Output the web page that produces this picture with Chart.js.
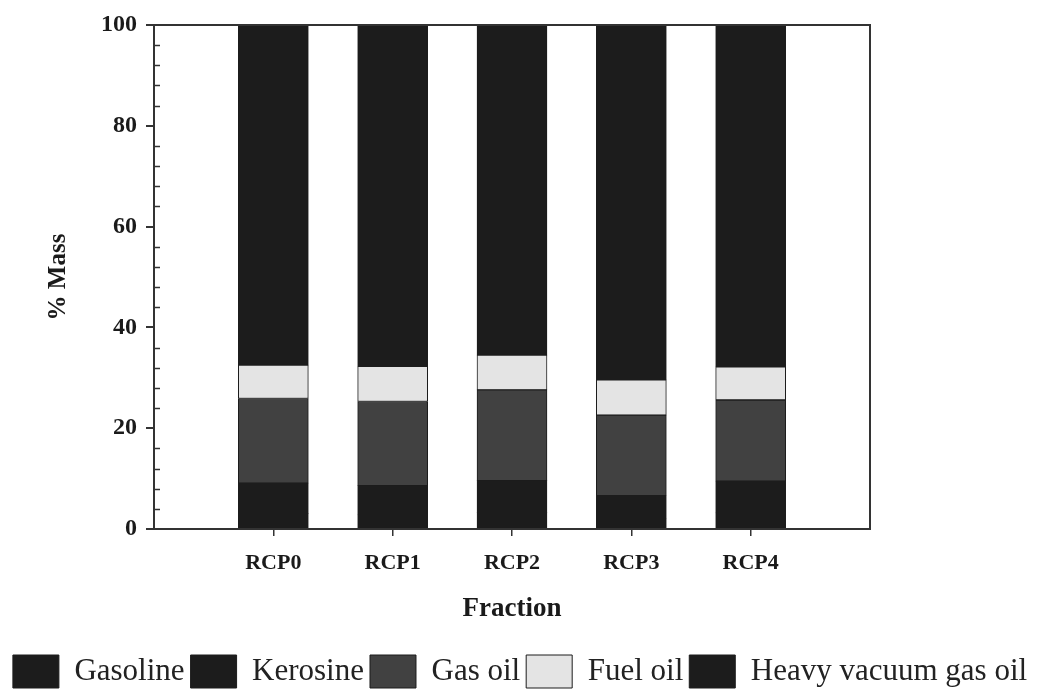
<!DOCTYPE html>
<html>
<head>
<meta charset="utf-8">
<script src="https://cdn.jsdelivr.net/npm/chart.js@4.4.1/dist/chart.umd.min.js"></script>
<style>
  html, body { margin: 0; padding: 0; background: #fff; }
</style>
</head>
<body>
<canvas id="Graf" width="1040" height="689"></canvas>
<script>
// fractions per sample, % mass, stacked from the bottom up
var fraktioner = ["RCP0", "RCP1", "RCP2", "RCP3", "RCP4"];
var gasoline = [3.1, 2.8, 3.3, 2.0, 3.2];
var kerosine = [6.0, 5.8, 6.3, 4.6, 6.3];
var gasOil = [16.8, 16.7, 18.0, 16.0, 16.1];
var fuelOil = [6.6, 7.0, 6.9, 7.0, 6.6];
var heavyVacuumGasOil = [67.5, 67.7, 65.5, 70.4, 67.8];
var yTicks = [0, 20, 40, 60, 80, 100];

var serif = "'Liberation Serif', 'Times New Roman', serif";
Chart.defaults.font.family = serif;
Chart.defaults.color = "#1a1a1a";

// empty slot on each side so the bars sit away from the axes
function pad(list, filler) {
    return [filler].concat(list, [filler]);
}

function lag(label, values, farve, kant) {
    return {
        label: label,
        data: pad(values, null),
        backgroundColor: farve,
        borderColor: kant,
        borderWidth: 1,
        borderSkipped: false,
        barThickness: 70,
        yAxisID: "y"
    };
}

// minor ticks on the inside of the y axis and the frame round the plot
var ramme = {
    id: "ramme",
    afterDraw: function (chart) {
        var ctx = chart.ctx;
        var a = chart.chartArea;
        var y = chart.scales.y;
        ctx.save();
        ctx.strokeStyle = "#333";
        ctx.lineWidth = 1.5;
        for (var v = 4; v < 100; v += 4) {
            if (v % 20 === 0) continue;
            var py = Math.round(y.getPixelForValue(v)) + 0.5;
            ctx.beginPath();
            ctx.moveTo(a.left, py);
            ctx.lineTo(a.left + 6, py);
            ctx.stroke();
        }
        ctx.lineWidth = 2;
        ctx.strokeRect(a.left, a.top, a.right - a.left, a.bottom - a.top);
        ctx.restore();
    }
};

var graf = new Chart("Graf", {
    type: "bar",
    data: {
        labels: pad(fraktioner, ""),
        datasets: [
            lag("Gasoline", gasoline, "#1c1c1c", "#1c1c1c"),
            lag("Kerosine", kerosine, "#1c1c1c", "#1c1c1c"),
            lag("Gas oil", gasOil, "#414141", "#1c1c1c"),
            lag("Fuel oil", fuelOil, "#e4e4e4", "#1c1c1c"),
            lag("Heavy vacuum gas oil", heavyVacuumGasOil, "#1c1c1c", "#1c1c1c")
        ]
    },
    options: {
        responsive: false,
        animation: false,
        layout: { padding: { top: 25, bottom: -9 } },
        plugins: {
            tooltip: { enabled: false },
            legend: {
                position: "bottom",
                labels: {
                    font: { size: 31, family: serif },
                    color: "#222",
                    boxWidth: 46,
                    boxHeight: 33,
                    padding: 6
                }
            }
        },
        scales: {
            x: {
                stacked: true,
                offset: false,
                grid: {
                    offset: false,
                    drawOnChartArea: false,
                    tickLength: 7,
                    lineWidth: 1.5,
                    color: function (c) {
                        return (c.index === 0 || c.index === fraktioner.length + 1) ? "rgba(0,0,0,0)" : "#333";
                    }
                },
                border: { color: "#333", width: 2 },
                ticks: {
                    font: { size: 22, weight: "bold" },
                    padding: 14,
                    maxRotation: 0,
                    autoSkip: false
                },
                title: {
                    display: true,
                    text: "Fraction",
                    font: { size: 27, weight: "bold" },
                    padding: { top: 0, bottom: 24 }
                },
                afterFit: function (s) { s.height = 120; }
            },
            y: {
                stacked: true,
                position: "left",
                min: 0,
                max: 100,
                afterBuildTicks: function (s) {
                    s.ticks = yTicks.map(function (v) { return { value: v }; });
                },
                grid: {
                    drawOnChartArea: false,
                    tickLength: 8,
                    lineWidth: 2,
                    color: "#333"
                },
                border: { color: "#333", width: 2 },
                ticks: {
                    font: { size: 24, weight: "bold" },
                    padding: 9
                },
                title: {
                    display: true,
                    text: "% Mass",
                    font: { size: 25, weight: "bold" },
                    padding: { top: 44, bottom: 0 }
                },
                afterFit: function (s) { s.width = 154; }
            },
            yRight: {
                position: "right",
                display: true,
                grid: { display: false },
                border: { display: false },
                ticks: { display: false },
                afterFit: function (s) { s.width = 170; }
            }
        }
    },
    plugins: [ramme]
});
</script>
</body>
</html>
